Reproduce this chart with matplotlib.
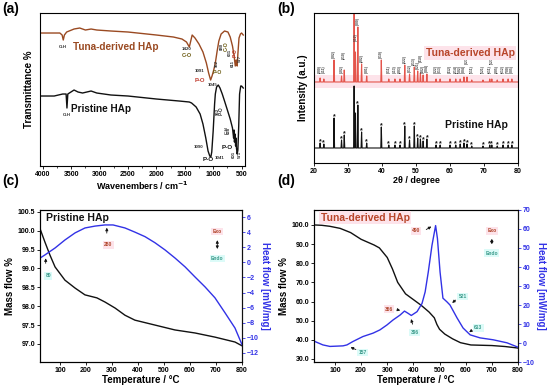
import numpy as np
import matplotlib
matplotlib.use("Agg")
import matplotlib.pyplot as plt
from matplotlib.ticker import MultipleLocator, FormatStrFormatter

plt.rcParams['font.family'] = ['Liberation Sans', 'DejaVu Sans']
plt.rcParams['font.weight'] = 'bold'
plt.rcParams['axes.labelweight'] = 'bold'
plt.rcParams['mathtext.default'] = 'bf'
plt.rcParams['axes.linewidth'] = 0.8

BROWN = '#9a4a22'
RED = '#e4554c'
BLUE = '#3232e6'
PINK = '#fde3ea'
CYAN = '#dcfbf8'

# ---------------- (a) FTIR ----------------
ftir_tuna_wn = [4050, 3700, 3660, 3640, 3620, 3580, 3450, 3350, 3250, 3150, 3050, 2800, 2500, 2000,
                1700, 1550, 1470, 1420, 1395, 1370, 1320, 1250, 1180, 1120, 1080, 1045, 1020, 990,
                962, 930, 900, 860, 800, 740, 700, 660, 631, 611, 595, 585, 577, 565, 545, 520, 500, 470]
ftir_tuna_t = [133, 133, 131, 126, 131, 134, 137, 138, 136, 137, 136, 135, 134, 131,
               129, 127, 124, 119, 125, 131, 128, 122, 114, 103, 93, 86, 90, 96,
               103, 115, 125, 132, 135, 134, 129, 120, 110, 100, 106, 104, 100, 112, 128, 132, 133, 131]

ftir_pris_wn = [4050, 3800, 3650, 3590, 3575, 3560, 3450, 3380, 3300, 3150, 3050, 2800, 2500, 2000,
                1600, 1420, 1380, 1300, 1230, 1180, 1130, 1090, 1060, 1041, 1025, 1000, 975, 962,
                940, 910, 880, 840, 800, 750, 700, 660, 640, 632, 625, 615, 605, 598, 590, 577,
                565, 550, 535, 515, 500, 470]
ftir_pris_t = [70, 70, 72, 72, 58, 72, 76, 74, 73, 75, 73, 71, 70, 67,
               65, 64, 63, 59, 52, 42, 28, 15, 10, 9, 14, 35, 62, 72,
               79, 81, 78, 72, 65, 56, 47, 38, 28, 36, 24, 32, 20, 28, 18, 12,
               16, 40, 72, 80, 80, 78]

ftir_ticks = [4000, 3500, 3000, 2500, 2000, 1500, 1000, 500]

# ---------------- (b) XRD ----------------
xrd_pos = [21.8, 22.9, 25.9, 28.1, 28.9, 31.8, 32.2, 32.9, 34.0, 35.5, 39.8, 42.0, 43.8, 45.3,
           46.7, 48.1, 49.5, 50.5, 51.3, 52.1, 53.2, 55.9, 57.1, 60.0, 61.7, 63.0, 64.1, 65.0,
           66.4, 69.7, 71.7, 72.3, 73.9, 75.6, 77.1, 78.2]
xrd_pris_h = [5, 4, 30, 8, 13, 62, 35, 43, 16, 5, 21, 3, 3, 3,
              22, 8, 22, 10, 9, 7, 9, 3, 3, 3, 3, 4, 5, 4,
              2, 2, 3, 3, 2, 3, 3, 3]
xrd_tuna_h = [4, 3, 22, 6, 12, 72, 30, 55, 18, 6, 22, 3, 3, 3,
              17, 8, 15, 11, 9, 7, 8, 3, 3, 3, 3, 3, 5, 5,
              2, 2, 3, 3, 2, 3, 3, 3]
xrd_hkl = ['(200)', '(111)', '(002)', '(102)', '(210)', '(211)', '(112)', '(300)', '(202)', '(301)',
           '(310)', '(311)', '(113)', '(203)', '(222)', '(312)', '(213)', '(321)', '(410)', '(402)',
           '(004)', '(322)', '(313)', '(412)', '(214)', '(502)', '(304)', '(323)', '(511)', '(521)',
           '(611)', '(523)', '(205)', '(612)', '(700)', '(005)']
xrd_pris_base = 15
xrd_tuna_base = 81

# ---------------- (c) pristine TGA/DSC ----------------
c_temp_mass = [25, 42, 61, 81, 119, 158, 196, 242, 273, 312, 350, 388, 465, 542, 619, 696, 773, 800]
c_mass = [100.02, 99.7, 99.36, 99.04, 98.69, 98.48, 98.30, 98.22, 98.11, 97.95, 97.76, 97.63,
          97.50, 97.37, 97.29, 97.18, 97.05, 96.95]
c_temp_hf = [25, 42, 81, 119, 158, 196, 235, 273, 304, 350, 388, 427, 465, 504, 542, 581, 619,
             658, 696, 735, 773, 800]
c_hf = [0.6, 0.98, 1.9, 2.96, 3.9, 4.55, 4.8, 4.95, 4.95, 4.55, 4.0, 3.4, 2.6, 1.64, 0.58, -0.6,
        -1.93, -3.26, -4.7, -6.7, -8.7, -10.9]

# ---------------- (d) tuna TGA/DSC ----------------
d_temp_mass = [20, 50, 80, 120, 160, 200, 250, 270, 300, 320, 340, 370, 400, 430, 460, 480, 490,
               500, 520, 550, 580, 620, 700, 750, 800]
d_mass = [100.0, 99.8, 99.3, 98.2, 96.0, 92.5, 89.5, 88.0, 83.0, 77.0, 70.0, 64.0, 61.0, 58.0,
          54.5, 51.5, 48.0, 45.5, 43.0, 40.5, 38.5, 37.3, 37.0, 36.5, 35.7]
d_temp_hf = [20, 54, 81, 131, 146, 169, 207, 246, 272, 299, 322, 349, 366, 380, 392, 414, 433,
             445, 457, 471, 485, 492, 502, 513, 528, 540, 567, 590, 617, 655, 705, 758, 800]
d_hf = [1.0, -1.0, -1.8, -1.5, -1.0, 0.8, 3.4, 5.2, 6.9, 9.5, 12.1, 14.7, 16.8, 15.6, 14.5, 16.5,
        20.8, 26.9, 37.4, 51.3, 61.8, 55.0, 37.4, 23.6, 21.7, 20.0, 13.2, 7.9, 4.3, 2.7, 1.7,
        0.1, -2.2]

fig = plt.figure(figsize=(5.5, 3.92), dpi=100)

def style(ax):
    ax.tick_params(labelsize=5, length=2, width=0.6, pad=1.5)
    for lab in ax.get_xticklabels() + ax.get_yticklabels():
        lab.set_fontweight('bold')

def tag(ax, x, y, s, fc, color, size=3.6):
    ax.text(x, y, s, fontsize=size, color=color, ha='center', va='center',
            bbox=dict(boxstyle='square,pad=0.25', fc=fc, ec='none'))

# ---- (a)
axa = fig.add_axes([0.0727, 0.5765, 0.3727, 0.3903])
axa.plot(ftir_tuna_wn, ftir_tuna_t, color=BROWN, lw=1.0)
axa.plot(ftir_pris_wn, ftir_pris_t, color='#111111', lw=1.0)
axa.set_xlim(4050, 440)
axa.set_ylim(0, 153)
axa.set_xticks(ftir_ticks)
axa.xaxis.set_minor_locator(MultipleLocator(250))
axa.set_yticks([])
axa.set_xlabel('Wavenembers / cm$^{-1}$', fontsize=6.5, labelpad=1)
axa.set_ylabel('Transmittance %', fontsize=7, labelpad=4)
style(axa)
axa.tick_params(which='minor', length=1.2, width=0.5)
axa.text(2720, 119, 'Tuna-derived HAp', color=BROWN, fontsize=7.2, ha='center', va='center')
axa.text(2970, 57, 'Pristine HAp', color='#111111', fontsize=7.2, ha='center', va='center')
sm = dict(fontsize=3.2, ha='center', va='center')
axa.text(3640, 119, 'O-H', color='#333333', **sm)
axa.text(3580, 51, 'O-H', color='#333333', **sm)
axa.text(1470, 117, '1420', color='#333333', **sm)
axa.text(1470, 111, 'C-O', color='#6b5a10', fontsize=4, ha='center', va='center')
axa.text(1230, 95, '1091', color='#333333', **sm)
axa.text(1230, 86, 'P-O', color='#c0392b', fontsize=4.2, ha='center', va='center')
axa.text(1010, 81, '1045', color='#333333', **sm)
axa.text(935, 103, '962', color='#333333', rotation=90, **sm)
axa.text(935, 94, 'P-O', color='#6b5a10', fontsize=3.8, ha='center', va='center')
axa.text(840, 120, '880', color='#333333', rotation=90, **sm)
axa.text(770, 120, 'C-O', color='#6b5a10', rotation=90, fontsize=3.8, ha='center', va='center')
axa.text(700, 114, '631', color='#333333', rotation=90, **sm)
axa.text(660, 103, '611', color='#333333', rotation=90, **sm)
axa.text(620, 113, 'P-O', color='#c0392b', rotation=90, fontsize=3.5, ha='center', va='center')
axa.text(530, 108, '577', color='#333333', rotation=90, **sm)
axa.text(1250, 19, '1090', color='#333333', **sm)
axa.text(1080, 7, 'P-O', color='#111111', fontsize=4.5, ha='center', va='center')
axa.text(890, 8, '1041', color='#333333', **sm)
axa.text(915, 55, '962', color='#333333', rotation=90, **sm)
axa.text(855, 55, 'P-O', color='#333333', rotation=90, fontsize=3.4, ha='center', va='center')
axa.text(765, 36, 'C-H', color='#333333', rotation=90, **sm)
axa.text(715, 36, '628', color='#333333', rotation=90, **sm)
axa.text(760, 19, 'P-O', color='#111111', fontsize=4.5, ha='center', va='center')
axa.text(640, 12, '601', color='#333333', rotation=90, **sm)
axa.text(525, 12, '571', color='#333333', rotation=90, **sm)

# ---- (b)
axb = fig.add_axes([0.5709, 0.5842, 0.3709, 0.3827])

def stick_profile(pos, heights, base):
    xs, ys = [20.0], [base]
    for p, h in zip(pos, heights):
        xs += [p - 0.15, p, p + 0.15]
        ys += [base, base + h, base]
    xs.append(80.0)
    ys.append(base)
    return xs, ys

axb.axhspan(xrd_tuna_base - 6, xrd_tuna_base + 7, color=PINK, lw=0, zorder=0)
xt, yt = stick_profile(xrd_pos, xrd_tuna_h, xrd_tuna_base)
xp, yp = stick_profile(xrd_pos, xrd_pris_h, xrd_pris_base)
axb.plot(xt, yt, color=RED, lw=0.8)
axb.plot(xp, yp, color='#111111', lw=0.8)
prev = -10
lift = 0
for p, h, hp, lab in zip(xrd_pos, xrd_tuna_h, xrd_pris_h, xrd_hkl):
    # stagger labels that sit too close to the previous one
    lift = 9 if (p - prev < 1.0 and lift == 0) else 0
    prev = p
    axb.text(p, xrd_tuna_base + max(h, 7) + 1.5 + lift, lab, rotation=90, fontsize=2.4,
             color='#444444', ha='center', va='bottom', clip_on=True)
    if p not in (31.8, 32.2):
        axb.text(p, xrd_pris_base + hp + 1.5, '*', fontsize=5, color='#111111',
                 ha='center', va='center')
axb.set_xlim(20, 80)
axb.set_ylim(0, 150)
axb.set_yticks([])
axb.xaxis.set_major_locator(MultipleLocator(10))
axb.set_xlabel('2θ / degree', fontsize=6.5, labelpad=1)
axb.set_ylabel('Intensity (a.u.)', fontsize=7, labelpad=4)
style(axb)
axb.text(79, 110, 'Tuna-derived HAp', color='#b8452a', fontsize=7.5, ha='right', va='center',
         bbox=dict(boxstyle='square,pad=0.15', fc=PINK, ec='none'))
axb.text(77, 38, 'Pristine HAp', color='#111111', fontsize=7.5, ha='right', va='center')

# ---- (c)
axc = fig.add_axes([0.0727, 0.0765, 0.3673, 0.3878])
axc.plot(c_temp_mass, c_mass, color='#111111', lw=1.0)
axc.set_xlim(23, 800)
axc.set_ylim(96.52, 100.55)
axc.yaxis.set_major_locator(MultipleLocator(0.5))
axc.yaxis.set_major_formatter(FormatStrFormatter('%.1f'))
axc.set_xticks([100, 200, 300, 400, 500, 600, 700, 800])
axc.set_xlabel('Temperature / °C', fontsize=7, labelpad=1)
axc.set_ylabel('Mass flow %', fontsize=7, labelpad=2)
style(axc)
axc2 = axc.twinx()
axc2.plot(c_temp_hf, c_hf, color=BLUE, lw=1.0)
axc2.set_ylim(-13.2, 6.93)
axc2.yaxis.set_major_locator(MultipleLocator(2))
axc2.set_ylabel('Heat flow [mW/mg]', fontsize=7, color=BLUE, rotation=270, labelpad=8)
style(axc2)
axc2.tick_params(axis='y', colors=BLUE)
axc2.spines['right'].set_color('#111111')
axc2.text(45, 5.9, 'Pristine HAp', fontsize=7.5, color='#111111', ha='left', va='center')
axc2.annotate('', xy=(280, 4.95), xytext=(280, 3.5),
              arrowprops=dict(arrowstyle='-|>', lw=0.6, color='#111111', mutation_scale=4))
tag(axc2, 285, 2.3, '280', PINK, '#b0452a')
axc2.annotate('', xy=(45, 0.9), xytext=(45, -0.5),
              arrowprops=dict(arrowstyle='-|>', lw=0.6, color='#111111', mutation_scale=4))
tag(axc2, 55, -1.8, '80', CYAN, '#3a9a8a')
tag(axc2, 705, 4.1, 'Exo', PINK, '#b0452a')
axc2.annotate('', xy=(705, 3.3), xytext=(705, 1.4),
              arrowprops=dict(arrowstyle='<|-|>', lw=0.6, color='#111111', mutation_scale=4))
tag(axc2, 705, 0.5, 'Endo', CYAN, '#3a9a8a')

# ---- (d)
axd = fig.add_axes([0.5709, 0.0765, 0.3709, 0.3878])
axd.plot(d_temp_mass, d_mass, color='#111111', lw=1.0)
axd.set_xlim(20, 800)
axd.set_ylim(28.4, 107.8)
axd.yaxis.set_major_locator(MultipleLocator(10))
axd.yaxis.set_major_formatter(FormatStrFormatter('%.1f'))
axd.set_xticks([100, 200, 300, 400, 500, 600, 700, 800])
axd.set_xlabel('Temperature / °C', fontsize=7, labelpad=1)
axd.set_ylabel('Mass flow %', fontsize=7, labelpad=2)
style(axd)
axd2 = axd.twinx()
axd2.plot(d_temp_hf, d_hf, color=BLUE, lw=1.0)
axd2.set_ylim(-10, 70)
axd2.yaxis.set_major_locator(MultipleLocator(10))
axd2.set_ylabel('Heat flow [mW/mg]', fontsize=7, color=BLUE, rotation=270, labelpad=8)
style(axd2)
axd2.tick_params(axis='y', colors=BLUE)
axd2.spines['right'].set_color('#111111')
axd2.text(45, 66, 'Tuna-derived HAp', fontsize=7.5, color='#b8452a', ha='left', va='center',
          bbox=dict(boxstyle='square,pad=0.15', fc=PINK, ec='none'))
arr = dict(arrowstyle='-|>', lw=0.6, color='#111111', mutation_scale=4)
tag(axd2, 410, 59, '490', PINK, '#b0452a')
axd2.annotate('', xy=(478, 62), xytext=(440, 59), arrowprops=arr)
tag(axd2, 307, 17.8, '366', PINK, '#b0452a')
axd2.annotate('', xy=(360, 16.8), xytext=(330, 17.8), arrowprops=arr)
tag(axd2, 405, 5.5, '396', CYAN, '#3a9a8a')
axd2.annotate('', xy=(388, 14.0), xytext=(400, 8.5), arrowprops=arr)
tag(axd2, 588, 24.5, '521', CYAN, '#3a9a8a')
axd2.annotate('', xy=(540, 20.2), xytext=(570, 23.5), arrowprops=arr)
tag(axd2, 648, 8.0, '613', CYAN, '#3a9a8a')
axd2.annotate('', xy=(605, 4.8), xytext=(632, 7.5), arrowprops=arr)
tag(axd2, 205, -5.0, '157', CYAN, '#3a9a8a')
axd2.annotate('', xy=(150, -1.7), xytext=(190, -4.0), arrowprops=arr)
tag(axd2, 700, 59, 'Exo', PINK, '#b0452a')
axd2.annotate('', xy=(700, 56.3), xytext=(700, 50.5),
              arrowprops=dict(arrowstyle='<|-|>', lw=0.6, color='#111111', mutation_scale=4))
tag(axd2, 700, 47.3, 'Endo', CYAN, '#3a9a8a')

for x, y, s in [(0.004, 0.995, '(a)'), (0.504, 0.995, '(b)'),
                (0.004, 0.555, '(c)'), (0.504, 0.555, '(d)')]:
    fig.text(x, y, s, fontsize=10, fontweight='bold', va='top', ha='left')

fig.savefig('out.png', dpi=100)
